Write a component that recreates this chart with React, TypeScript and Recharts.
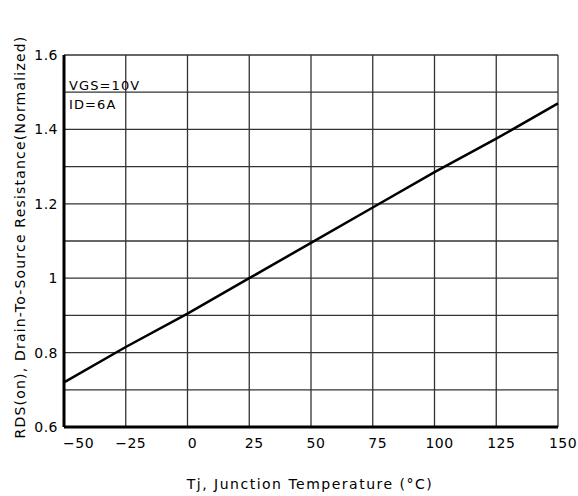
import { LineChart, Line, XAxis, YAxis, CartesianGrid } from 'recharts'

// Tj (°C) vs normalized RDS(on)
const temps = [-50, -25, 0, 25, 50, 75, 100, 125, 150]
const rdsOn = [0.72, 0.815, 0.905, 1.0, 1.095, 1.19, 1.285, 1.375, 1.47]

const xTicks = [-50, -25, 0, 25, 50, 75, 100, 125, 150]
const yGridTicks = [0.6, 0.7, 0.8, 0.9, 1, 1.1, 1.2, 1.3, 1.4, 1.5, 1.6]
const yLabelTicks = ['0.6', '0.8', '1', '1.2', '1.4', '1.6']

const conditions = ['VGS=10V', 'ID=6A']

const data = temps.map((t, i) => ({ t, r: rdsOn[i] }))

const FONT = '"DejaVu Sans", Verdana, sans-serif'
const INK = '#000'

function YTick(props: any) {
  const { x, y, payload } = props
  const label = String(Math.round(payload.value * 10) / 10)
  if (!yLabelTicks.includes(label)) return null
  return (
    <text x={x} y={y} dy={5} textAnchor="end" fontSize={14} fill={INK} fontFamily={FONT} letterSpacing={0.5}>
      {label}
    </text>
  )
}

function XTick(props: any) {
  const { x, y, payload } = props
  const v = payload.value
  const label = v < 0 ? `\u2212${Math.abs(v)}` : String(v)
  const first = v === xTicks[0]
  return (
    <text
      x={first ? x - 1 : x + 5}
      y={y}
      dy={11}
      textAnchor={first ? 'start' : 'middle'}
      fontSize={14}
      fill={INK}
      fontFamily={FONT}
      letterSpacing={0.5}
    >
      {label}
    </text>
  )
}

export default function App() {
  return (
    <div style={{ position: 'absolute', left: 0, top: 0, width: 578, height: 496, background: '#fff' }}>
      <LineChart width={578} height={496} data={data} margin={{ top: 55, right: 20, left: 0, bottom: 0 }}>
        <CartesianGrid stroke="#333" strokeWidth={1.3} />
        <XAxis
          dataKey="t"
          type="number"
          domain={[-50, 150]}
          ticks={xTicks}
          height={69}
          tickLine={false}
          tickSize={0}
          tickMargin={10}
          axisLine={{ stroke: INK, strokeWidth: 3 }}
          tick={<XTick />}
          interval={0}
        />
        <YAxis
          type="number"
          domain={[0.6, 1.6]}
          ticks={yGridTicks}
          width={64}
          tickLine={false}
          tickSize={0}
          tickMargin={6}
          axisLine={{ stroke: INK, strokeWidth: 3 }}
          tick={<YTick />}
          interval={0}
        />
        <Line
          type="linear"
          dataKey="r"
          stroke={INK}
          strokeWidth={2.5}
          dot={false}
          isAnimationActive={false}
        />
        {conditions.map((c, i) => (
          <text key={c} x={69} y={90 + i * 19} fontSize={13} fill={INK} fontFamily={FONT} letterSpacing={1.1}>
            {c}
          </text>
        ))}
        <text
          x={20}
          y={237}
          transform="rotate(-90 20 237)"
          textAnchor="middle"
          dominantBaseline="central"
          fontSize={14}
          fill={INK}
          fontFamily={FONT}
          letterSpacing={1.2}
        >
          RDS(on), Drain-To-Source Resistance(Normalized)
        </text>
        <text x={310} y={489} textAnchor="middle" fontSize={14} fill={INK} fontFamily={FONT} letterSpacing={1.5}>
          Tj, Junction Temperature (°C)
        </text>
      </LineChart>
    </div>
  )
}
